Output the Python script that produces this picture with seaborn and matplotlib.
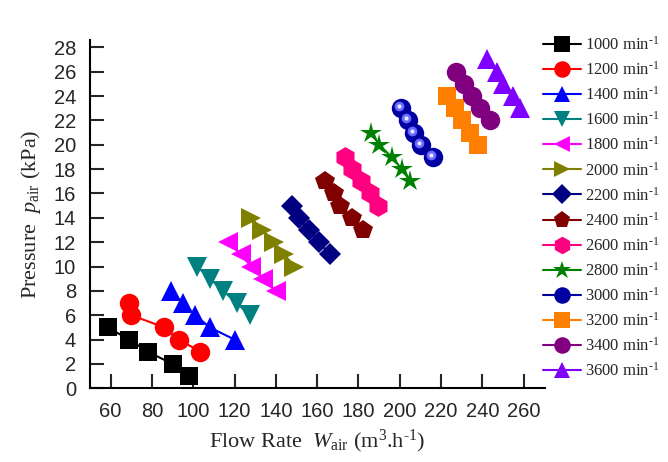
import numpy as np
import pandas as pd
import matplotlib
matplotlib.use("Agg")
import matplotlib.pyplot as plt
import matplotlib.transforms as mtransforms
import seaborn as sns

# data
speeds = [1000, 1200, 1400, 1600, 1800, 2000, 2200, 2400, 2600, 2800, 3000, 3200, 3400, 3600]

flow = {
    1000: [58.5, 69, 78, 90, 98],
    1200: [69, 70, 86, 93, 103.5],
    1400: [89, 95, 101, 108, 120],
    1600: [102, 108, 114.5, 121, 127.5],
    1800: [117, 123, 128, 134, 140],
    2000: [128, 133.5, 139, 144, 149],
    2200: [148, 151, 156, 161, 166],
    2400: [164, 168, 171, 177, 182],
    2600: [173.5, 177, 181, 185.5, 189.5],
    2800: [186, 190, 196, 201, 205],
    3000: [200.5, 204, 207, 210.5, 216],
    3200: [223, 226.5, 230, 234, 238],
    3400: [227, 231, 235, 239, 243.5],
    3600: [242, 247, 250, 255, 258],
}
pressure = {
    1000: [5, 4, 3, 2, 1],
    1200: [7, 6, 5, 4, 3],
    1400: [8, 7, 6, 5, 4],
    1600: [10, 9, 8, 7, 6],
    1800: [12, 11, 10, 9, 8],
    2000: [14, 13, 12, 11, 10],
    2200: [15, 14, 13, 12, 11],
    2400: [17, 16, 15, 14, 13],
    2600: [19, 18, 17, 16, 15],
    2800: [21, 20, 19, 18, 17],
    3000: [23, 22, 21, 20, 19],
    3200: [24, 23, 22, 21, 20],
    3400: [26, 25, 24, 23, 22],
    3600: [27, 26, 25, 24, 23],
}

colors = ["#000000", "#FF0000", "#0000FF", "#008080", "#FF00FF", "#808000", "#000080",
          "#800000", "#FF0080", "#008000", "#0000A0", "#FF8000", "#800080", "#8000FF"]
marker_list = ["s", "o", "^", "v", "<", ">", "D", "p", "h", "*", "o", "s", "o", "^"]
marker_size = [13, 14, 14, 14, 14, 14, 11.5, 15, 15, 16, 14, 13, 14, 14]

rows = []
for s in speeds:
    for x, y in zip(flow[s], pressure[s]):
        rows.append({"speed": f"{s} min$^{{\\text{{-1}}}}$", "flow": x, "pressure": y})
df = pd.DataFrame(rows)
labels = [f"{s} min$^{{\\text{{-1}}}}$" for s in speeds]

sns.set_style("ticks")
plt.rcParams["font.family"] = ["Liberation Serif", "DejaVu Serif"]
plt.rcParams["mathtext.fontset"] = "custom"
plt.rcParams["mathtext.rm"] = "Liberation Serif"
plt.rcParams["mathtext.it"] = "Liberation Serif:italic"
plt.rcParams["mathtext.bf"] = "Liberation Serif:bold"

fig = plt.figure(figsize=(6.68, 4.62), dpi=100)
ax = fig.add_axes([90 / 668, 1 - 388.3 / 462, 455 / 668, (388.3 - 40) / 462])

sns.lineplot(data=df, x="flow", y="pressure", hue="speed", style="speed",
             hue_order=labels, style_order=labels,
             palette=dict(zip(labels, colors)),
             markers=dict(zip(labels, marker_list)), dashes=False,
             sort=False, markersize=12, markeredgewidth=0, linewidth=1.5,
             ax=ax)

for line, ms in zip(ax.lines, marker_size):
    line.set_markersize(ms)

# sphere highlight on the 3000 min-1 series
hl = mtransforms.offset_copy(ax.transData, fig=fig, x=-2, y=2, units="dots")
ax.plot(flow[3000], pressure[3000], "o", ms=7, color="#6a6aff", mec="none", transform=hl)
ax.plot(flow[3000], pressure[3000], "o", ms=3, color="#e8e8ff", mec="none", transform=hl)

ax.set_xlim(50, 270.3)
ax.set_ylim(0, 28.6)
ax.set_xticks(np.arange(60, 261, 20))
ax.set_yticks(np.arange(0, 29, 2))
for lab in ax.get_xticklabels() + ax.get_yticklabels():
    lab.set_family("Liberation Sans")
    lab.set_fontsize(14.5)
ax.tick_params(direction="in", length=10, width=1.5, pad=10)
sns.despine(ax=ax)
for sp in ["left", "bottom"]:
    ax.spines[sp].set_linewidth(1.5)
    ax.spines[sp].set_color("black")

ax.set_xlabel(r"Flow Rate  $W_{\rm air}$ (m$^3$.h$^{\text{-1}}$)", fontsize=16, labelpad=5)
ax.set_ylabel(r"Pressure  $p_{\rm air}$ (kPa)", fontsize=16, labelpad=8)

sns.move_legend(ax, loc="upper left", bbox_to_anchor=(543 / 668, 1 - 36 / 462),
                bbox_transform=fig.transFigure, frameon=False, title=None,
                fontsize=12, labelspacing=0.43, handlelength=2.3,
                handletextpad=0.2, borderpad=0, borderaxespad=0)
leg = ax.get_legend()
for h, ms in zip(leg.legend_handles, marker_size):
    h.set_markersize(ms * 0.85)
    h.set_markeredgewidth(0)

fig.savefig("out.png", dpi=100)
